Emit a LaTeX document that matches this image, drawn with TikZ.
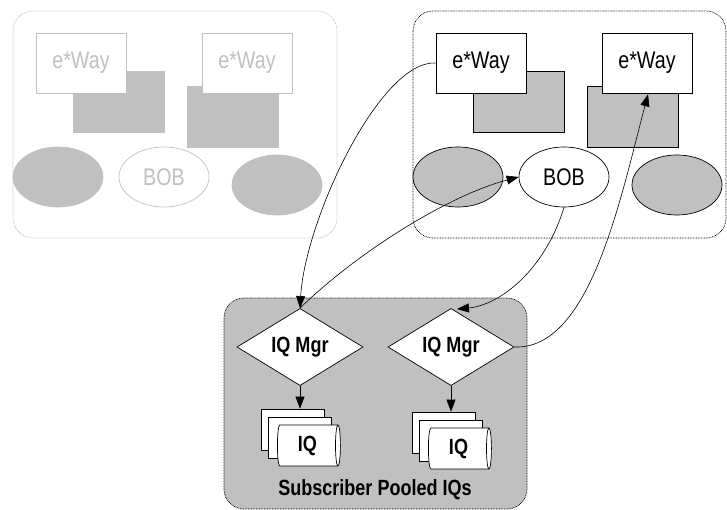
\documentclass[tikz,border=0pt]{standalone}
\usepackage{fontspec}
\setmainfont{Liberation Sans}[FakeStretch=0.82]
\usepackage{xcolor}
\usepackage{tikz}
\usetikzlibrary{shapes.geometric, calc, arrows.meta}
\definecolor{boxgray}{HTML}{C0C0C0}

\begin{document}
\begin{tikzpicture}[x=1pt, y=-1pt,
  group/.style={draw, dash pattern=on 0.8pt off 0.8pt, rounded corners=20pt, line width=0.7pt},
  way/.style={draw, fill=white, minimum width=90pt, minimum height=60pt, inner sep=0pt, line width=0.7pt, font=\fontsize{24}{24}\selectfont},
  block/.style={draw, fill=boxgray, minimum width=91pt, minimum height=61pt, inner sep=0pt, line width=0.7pt},
  oval/.style={draw, ellipse, minimum width=90pt, minimum height=60pt, inner sep=0pt, line width=0.7pt, font=\fontsize{24}{24}\selectfont},
  faded/.style={draw=boxgray, text=boxgray},
  mgr/.style={draw, diamond, fill=white, minimum width=126pt, minimum height=75pt, inner sep=0pt, line width=0.7pt, font=\bfseries\fontsize{22}{22}\selectfont},
  iq/.style={draw, cylinder, fill=white, aspect=0.25, minimum width=41pt, minimum height=63pt, inner sep=0pt, line width=0.7pt, font=\bfseries\fontsize{22}{22}\selectfont},
  link/.style={-{Triangle[length=12pt,width=9pt]}, line width=0.6pt}
]
\useasboundingbox (0,0) rectangle (727,510);

% faded group on the left
\draw[group, draw=boxgray] (13,11) rectangle (337,238);
\node[block, faded, fill=boxgray] (lblockA) at (118.5,101.5) {};
\node[block, faded, fill=boxgray] (lblockB) at (232.5,117) {};
\node[way, faded] (lwayA) at (81,63) {e*Way};
\node[way, faded] (lwayB) at (247,63) {e*Way};
\node[oval, faded, fill=boxgray] (lovalA) at (58,177) {};
\node[oval, faded, fill=white] (lbob) at (164,177) {BOB};
\node[oval, faded, fill=boxgray] (lovalB) at (277,185) {};

% active group on the right
\draw[group] (413,11) rectangle (726,238);
\node[block] (rblockA) at (518.5,101.5) {};
\node[block] (rblockB) at (632.5,117) {};
\node[way] (rwayA) at (481,63) {e*Way};
\node[way] (rwayB) at (647,63) {e*Way};
\node[oval, fill=boxgray] (rovalA) at (458,177) {};
\node[oval, fill=white] (rbob) at (564,177) {BOB};
\node[oval, fill=boxgray] (rovalB) at (677,185) {};

% subscriber pool
\draw[group, fill=boxgray] (224,298) rectangle (527,509);
\node[mgr] (mgr1) at (300,347) {IQ Mgr};
\node[mgr] (mgr2) at (451,347) {IQ Mgr};
\node[iq] (iq1c) at (293,429.5) {};
\node[iq] (iq1b) at (300,437.5) {};
\node[iq] (iq1a) at (307.5,445.5) {IQ};
\node[iq] (iq2c) at (444,432.5) {};
\node[iq] (iq2b) at (451,440.5) {};
\node[iq] (iq2a) at (458.5,448.5) {IQ};
\node[font=\bfseries\fontsize{22}{22}\selectfont] (pool) at (375,490) {Subscriber Pooled IQs};

\draw[link] (mgr1.south) -- (iq1c.north -| mgr1.south);
\draw[link] (mgr2.south) -- (iq2c.north -| mgr2.south);

% links between groups
\draw[link] (rwayA.west) .. controls (380,60) and (305,220) .. (mgr1.north);
\draw[link] (mgr1.north) .. controls (360,250) and (450,195) .. (rbob.west);
\draw[link] (rbob.south) .. controls (545,270) and (500,305) .. ($(mgr2.north)+(6,1)$);
\draw[link] (mgr2.east) .. controls (590,350) and (620,200) .. ($(rwayB.south)+(1,1)$);
\end{tikzpicture}
\end{document}
